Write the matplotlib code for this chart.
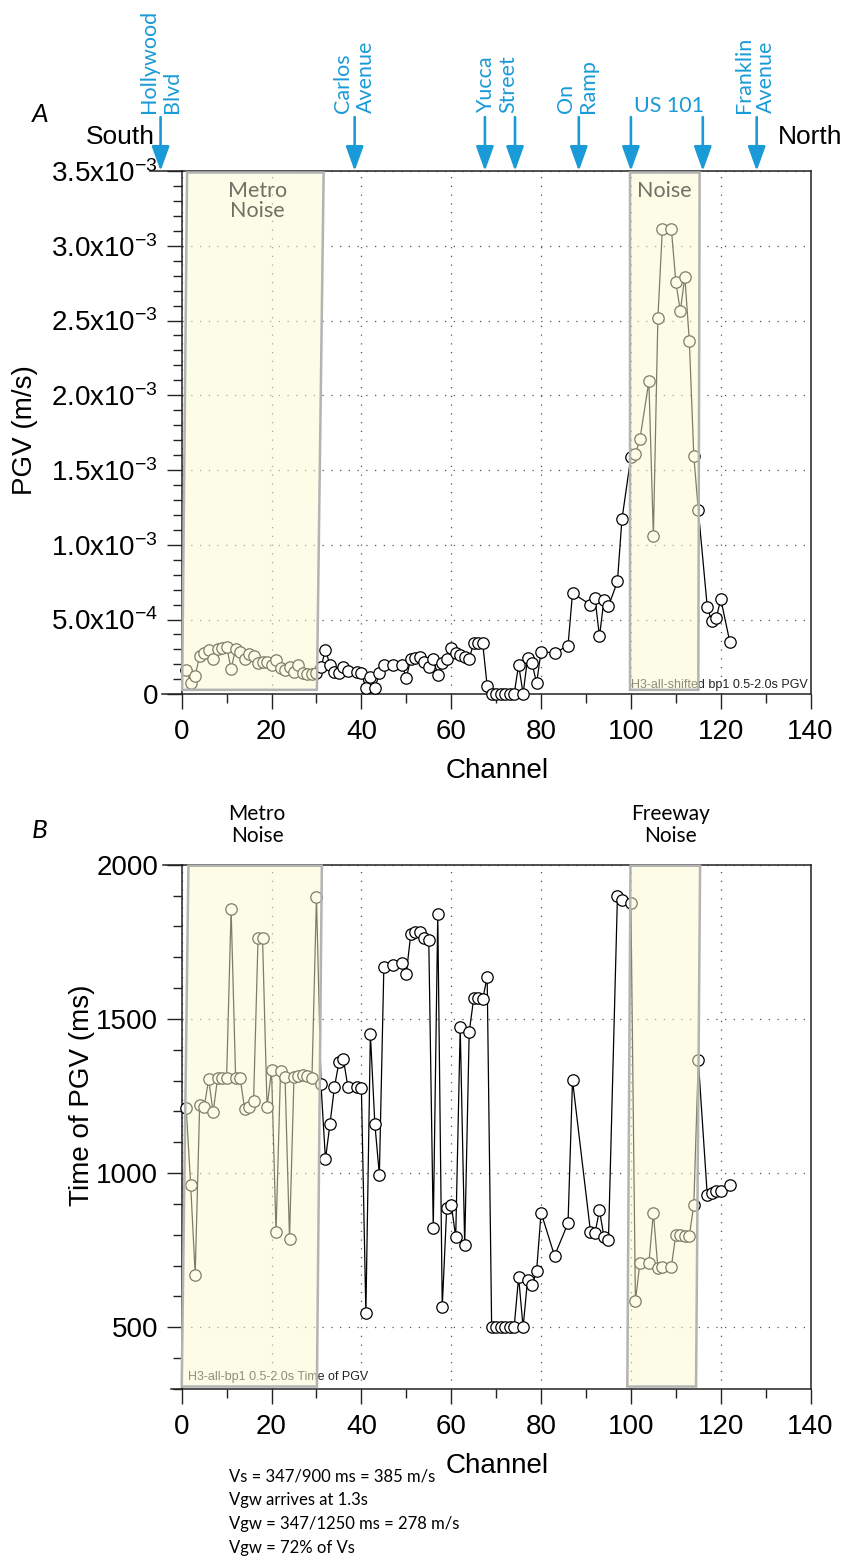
"""PGV and time-of-PGV along the array, two stacked panels."""
import matplotlib

matplotlib.use("Agg")
import matplotlib.pyplot as plt  # noqa: E402
import matplotlib.transforms as mtransforms  # noqa: E402
from matplotlib.patches import Polygon  # noqa: E402
from matplotlib.ticker import MultipleLocator  # noqa: E402

plt.rcParams["font.family"] = ["Liberation Sans", "DejaVu Sans"]
plt.rcParams["mathtext.fontset"] = "custom"
plt.rcParams["mathtext.rm"] = "Liberation Sans"
plt.rcParams["mathtext.it"] = "Liberation Sans:italic"
plt.rcParams["mathtext.bf"] = "Liberation Sans:bold"

HUMANIST = ["Lato", "DejaVu Sans"]
BLUE = "#1a9bd7"

# --------------------------------------------------------------------------- #
# Data
# --------------------------------------------------------------------------- #
channels = [1, 2, 3, 4, 5, 6, 7, 8, 9, 10, 11, 12, 13, 14, 15, 16, 17, 18, 19, 20,
            21, 22, 23, 24, 25, 26, 27, 28, 29, 30, 31, 32, 33, 34, 35, 36, 37,
            39, 40, 41, 42, 43, 44, 45, 47,
            49, 50, 51, 52, 53, 54, 55, 56, 57, 58, 59, 60, 61, 62, 63, 64, 65, 66,
            67, 68, 69, 70, 71, 72, 73, 74, 75, 76, 77, 78, 79, 80,
            83, 86, 87, 91, 92, 93, 94, 95, 97, 98, 100, 101, 102,
            104, 105, 106, 107, 109, 110, 111, 112, 113, 114, 115,
            117, 118, 119, 120, 122]

# peak ground velocity, units of 1e-4 m/s
pgv_e4 = [1.63, 0.78, 1.25, 2.57, 2.79, 2.93, 2.39, 3.02, 3.09, 3.15,
          1.72, 3.02, 2.86, 2.39, 2.68, 2.55, 2.12, 2.19, 2.17, 1.94,
          2.30, 1.74, 1.63, 1.85, 1.52, 1.97, 1.45, 1.36, 1.36, 1.41,
          1.80, 2.97, 1.97, 1.52, 1.41, 1.80, 1.58,
          1.52, 1.41, 0.40, 1.18, 0.40, 1.41, 1.97, 1.97,
          1.97, 1.12, 2.37, 2.41, 2.48, 2.19, 1.81, 2.35, 1.30, 2.08, 2.35, 3.08,
          2.75, 2.64, 2.48, 2.35, 3.46, 3.46, 3.42, 0.56,
          0.0, 0.0, 0.0, 0.0, 0.0, 0.0, 1.97, 0.04, 2.41, 2.08, 0.74, 2.86,
          2.75, 3.26, 6.77, 5.99, 6.43, 3.87, 6.32, 5.88, 7.55, 11.7,
          15.89, 16.05, 17.06, 20.93, 10.57, 25.15, 31.14, 31.14,
          27.57, 25.62, 27.94, 23.65, 15.94, 12.31, 5.83, 4.87, 5.10, 6.37, 3.53]

# time of peak ground velocity, ms
t_pgv = [1212, 961, 671, 1221, 1214, 1304, 1197, 1310, 1310, 1310,
         1856, 1310, 1310, 1209, 1214, 1234, 1764, 1761, 1214, 1333,
         810, 1330, 1313, 788, 1313, 1315, 1318, 1316, 1310, 1896,
         1290, 1045, 1159, 1279, 1359, 1370, 1279,
         1279, 1276, 546, 1452, 1159, 995, 1667, 1675,
         1683, 1647, 1776, 1782, 1782, 1761, 1757, 821, 1839, 565, 888, 898,
         793, 1474, 766, 1457, 1567, 1567, 1564, 1636,
         500, 500, 500, 500, 500, 500, 663, 500, 655, 636, 682, 872,
         732, 838, 1301, 810, 805, 880, 793, 783, 1898, 1887,
         1876, 584, 710, 708, 872, 693, 697, 697,
         801, 799, 797, 797, 897, 1366, 928, 936, 942, 942, 961]

pgv_yticks = [0, 5e-4, 1e-3, 1.5e-3, 2e-3, 2.5e-3, 3e-3, 3.5e-3]
pgv_yticklabels = ["0", "5.0x10$^{-4}$", "1.0x10$^{-3}$", "1.5x10$^{-3}$",
                   "2.0x10$^{-3}$", "2.5x10$^{-3}$", "3.0x10$^{-3}$", "3.5x10$^{-3}$"]
time_yticks = [500, 1000, 1500, 2000]

# noise windows: (bottom-left, top-left, top-right, bottom-right) channel edges
pgv_noise_x = [(0.1, 1.2, 31.6, 30.1), (99.8, 99.8, 115.3, 115.0)]
pgv_noise_y = (0.03e-3, 3.49e-3)
time_noise_x = [(0.0, 1.5, 31.2, 30.1), (99.2, 99.9, 115.4, 114.5)]
time_noise_y = (308, 1997)

# street markers along the top of panel A
arrow_ch = [-4.7, 38.5, 67.5, 74.2, 88.4, 100.0, 116.0, 128.0]
street_labels = ["Hollywood\nBlvd", "Carlos\nAvenue", "Yucca\nStreet", "On\nRamp",
                 "US 101", "Franklin\nAvenue"]
street_label_ch = [-4.7, 38.5, 70.2, 88.0, 108.4, 127.6]
street_label_rot = [90, 90, 90, 90, 0, 90]

notes = ["Vs = 347/900 ms = 385 m/s", "Vgw arrives at 1.3s",
         "Vgw = 347/1250 ms = 278 m/s", "Vgw = 72% of Vs"]

# --------------------------------------------------------------------------- #
# Figure
# --------------------------------------------------------------------------- #
W, H = 846, 1556
fig = plt.figure(figsize=(W / 100, H / 100), dpi=100)


def px_axes(left, top, right, bottom):
    return fig.add_axes([left / W, 1 - bottom / H, (right - left) / W, (bottom - top) / H])


ax1 = px_axes(181.7, 171.0, 810.6, 694.3)
ax2 = px_axes(181.7, 864.8, 810.6, 1389.0)


def style(ax, ext_top, ext_bottom):
    ax.set_xlim(0, 140)
    ax.xaxis.set_major_locator(MultipleLocator(20))
    ax.xaxis.set_minor_locator(MultipleLocator(10))
    ax.tick_params(axis="both", which="major", direction="out", length=11, width=1,
                   labelsize=20, top=False, right=False, color="#222")
    ax.tick_params(axis="both", which="minor", direction="out", length=6.5, width=1,
                   top=False, right=False, color="#222")
    ax.tick_params(axis="x", pad=7)
    ax.tick_params(axis="y", pad=6)
    for s in ax.spines.values():
        s.set_linewidth(1.1)
        s.set_color("#222")
    ax.grid(True, which="major", linestyle=(0, (1, 6)), color="#555", lw=0.9)
    ax.set_axisbelow(True)
    # Igor-style: horizontal frame lines run a little past the left axis
    ax.plot([ext_top, 0], [1, 1], transform=ax.transAxes, color="#222", lw=1.1,
            clip_on=False)
    ax.plot([ext_bottom, 0], [0, 0], transform=ax.transAxes, color="#222", lw=1.1,
            clip_on=False)


def noise_boxes(ax, xs, ylims):
    lo, hi = ylims
    for bl, tl, tr, br in xs:
        pts = [(bl, lo), (tl, hi), (tr, hi), (br, lo)]
        ax.add_patch(Polygon(pts, closed=True, facecolor="#fafad0", edgecolor="none",
                             alpha=0.5, zorder=5, clip_on=False))
        ax.add_patch(Polygon(pts, closed=True, fill=False, edgecolor="#b3b3b3",
                             lw=1.8, zorder=6, clip_on=False))


# ---- Panel A ------------------------------------------------------------- #
pgv = [v * 1e-4 for v in pgv_e4]
ax1.plot(channels, pgv, "-o", color="black", lw=0.9, ms=8.2, mfc="white", mec="black",
         mew=0.9, zorder=3, clip_on=False)
style(ax1, -0.05, -0.031)
ax1.set_ylim(0, 3.5e-3)
ax1.set_yticks(pgv_yticks)
ax1.set_yticklabels(pgv_yticklabels)
ax1.yaxis.set_minor_locator(MultipleLocator(1e-4))
noise_boxes(ax1, pgv_noise_x, pgv_noise_y)
trans1 = mtransforms.blended_transform_factory(ax1.transData, ax1.transAxes)
ax1.text(16.8, 0.943, "Metro\nNoise", transform=trans1, ha="center", va="center",
         fontsize=15.5, family=HUMANIST, color="#707066", zorder=7, linespacing=1.0)
ax1.text(107.4, 0.962, "Noise", transform=trans1, ha="center", va="center",
         fontsize=15.5, family=HUMANIST, color="#707066", zorder=7)
ax1.text(0.996, 0.006, "H3-all-shifted bp1 0.5-2.0s PGV", transform=ax1.transAxes,
         ha="right", va="bottom", fontsize=9, color="#222", zorder=4)

for ch in arrow_ch:
    ax1.annotate("", xy=(ch, 1.0), xycoords=trans1, xytext=(ch, 1.103),
                 textcoords=trans1, annotation_clip=False,
                 arrowprops=dict(arrowstyle="-|>,head_length=0.75,head_width=0.27",
                                 color=BLUE, lw=1.9, shrinkA=0, shrinkB=0,
                                 mutation_scale=20))
for lab, ch, rot in zip(street_labels, street_label_ch, street_label_rot):
    ax1.text(ch, 1.111 if rot else 1.106, lab, transform=trans1, rotation=rot,
             ha="center", va="bottom", multialignment="left", color=BLUE,
             fontsize=15.5, family=HUMANIST, linespacing=1.15)

fig.text(155 / W, 1 - 137 / H, "South", ha="right", va="center", fontsize=19)
fig.text(778 / W, 1 - 137 / H, "North", ha="left", va="center", fontsize=19)
fig.text(40 / W, 1 - 115 / H, "A", ha="center", va="center", fontsize=19,
         style="italic", family=HUMANIST)
fig.text(25 / W, 1 - 430 / H, "PGV (m/s)", rotation=90, ha="center", va="center",
         fontsize=20)
fig.text(497 / W, 1 - 771 / H, "Channel", ha="center", va="center", fontsize=20)

# ---- Panel B ------------------------------------------------------------- #
ax2.plot(channels, t_pgv, "-o", color="black", lw=0.9, ms=8.2, mfc="white", mec="black",
         mew=0.9, zorder=3, clip_on=False)
style(ax2, -0.03, -0.0175)
ax2.set_ylim(300, 2000)
ax2.set_yticks(time_yticks)
ax2.yaxis.set_minor_locator(MultipleLocator(100))
noise_boxes(ax2, time_noise_x, time_noise_y)
ax2.text(0.01, 0.012, "H3-all-bp1 0.5-2.0s Time of PGV", transform=ax2.transAxes,
         ha="left", va="bottom", fontsize=9, color="#222", zorder=4)
trans2 = mtransforms.blended_transform_factory(ax2.transData, ax2.transAxes)
ax2.text(16.8, 1.076, "Metro\nNoise", transform=trans2, ha="center", va="center",
         fontsize=15, family=HUMANIST, linespacing=1.1)
ax2.text(108.8, 1.076, "Freeway\nNoise", transform=trans2, ha="center", va="center",
         fontsize=15, family=HUMANIST, linespacing=1.1)

fig.text(40 / W, 1 - 830 / H, "B", ha="center", va="center", fontsize=19,
         style="italic", family=HUMANIST)
fig.text(82 / W, 1 - 1095 / H, "Time of PGV (ms)", rotation=90, ha="center",
         va="center", fontsize=20)
fig.text(497 / W, 1 - 1466 / H, "Channel", ha="center", va="center", fontsize=20)

for i, line in enumerate(notes):
    fig.text(229 / W, 1 - (1476 + 24 * i) / H, line, ha="left", va="center",
             fontsize=12, family=HUMANIST)

fig.savefig("out.png", dpi=100)
